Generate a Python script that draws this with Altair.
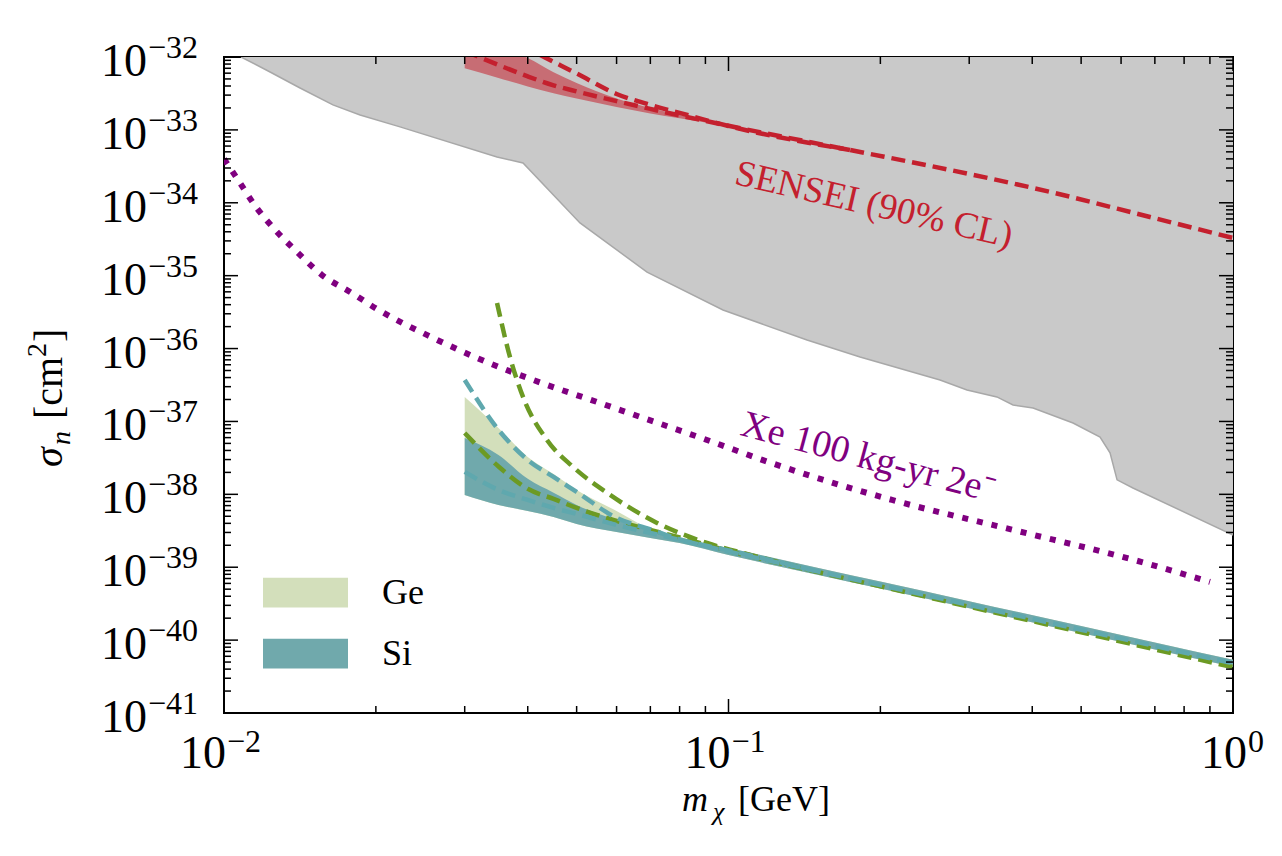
import altair as alt
import pandas as pd

FONT = "Liberation Serif"
W, H = 1009, 656

# ---------------- data ----------------
# existing constraints (grey region): lower boundary
grey_m = [0.01081, 0.01234, 0.01415, 0.01644, 0.01861, 0.02233, 0.03477, 0.03915,
          0.05077, 0.06895, 0.09752, 0.1431, 0.1823, 0.2626, 0.2970, 0.3404, 0.3664,
          0.4015, 0.4819, 0.5451, 0.5705, 0.5891, 0.6334, 1.0]
grey_sigma = [1.0e-32, 6.23e-33, 3.76e-33, 2.20e-33, 1.60e-33, 1.10e-33, 4.25e-34, 3.52e-34,
              5.29e-35, 1.12e-35, 3.38e-36, 1.31e-36, 7.67e-37, 3.71e-37, 2.70e-37, 2.17e-37,
              1.68e-37, 1.53e-37, 9.53e-38, 6.12e-38, 3.70e-38, 1.58e-38, 1.22e-38, 2.77e-39]
grey_top = 1.0e-32

# SENSEI (90% CL)
sensei_band_m = [0.03, 0.035, 0.04, 0.045, 0.05, 0.06, 0.07, 0.08, 0.1]
sensei_band_lo = [7.0e-33, 5.15e-33, 3.95e-33, 3.18e-33, 2.69e-33, 2.06e-33, 1.68e-33, 1.44e-33, 1.12e-33]
sensei_band_hi = [1.71e-32, 1.33e-32, 9.7e-33, 6.2e-33, 4.4e-33, 2.70e-33, 2.0e-33, 1.60e-33, 1.13e-33]
sensei_upper_m = [0.03, 0.035, 0.04, 0.045, 0.05, 0.06, 0.07, 0.08, 0.1, 0.1741]
sensei_upper = [3.5e-32, 2.07e-32, 1.30e-32, 8.6e-33, 5.94e-33, 3.11e-33, 2.20e-33, 1.71e-33, 1.13e-33,
                5.30e-34]
sensei_lower_m = [0.03, 0.035, 0.04, 0.045, 0.05, 0.06, 0.07, 0.08, 0.1, 0.1741, 0.2749, 0.4338, 0.6845, 1.0]
sensei_lower = [1.21e-32, 7.77e-33, 5.42e-33, 4.09e-33, 3.37e-33, 2.48e-33, 1.94e-33, 1.58e-33, 1.14e-33,
                5.30e-34, 2.82e-34, 1.41e-34, 6.38e-35, 3.29e-35]

# Xe 100 kg-yr 2e-
xe_m = [0.01, 0.01066, 0.01157, 0.01274, 0.01408, 0.01564, 0.01778, 0.02010, 0.02596, 0.03173,
        0.04099, 0.05487, 0.06769, 0.09065, 0.1214, 0.2109, 0.3664, 0.6364, 0.9003]
xe_sigma = [3.99e-34, 2.06e-34, 8.76e-35, 3.98e-35, 1.99e-35, 1.02e-35, 5.98e-36, 3.49e-36, 1.40e-36,
            7.43e-37, 3.71e-37, 1.85e-37, 1.12e-37, 5.57e-38, 2.70e-38, 8.38e-39, 3.25e-39, 1.26e-39, 6.29e-40]

# Ge / Si
mass_grid = [0.03, 0.035, 0.04, 0.045, 0.05, 0.06, 0.07, 0.08, 0.1, 0.15, 0.2, 0.3, 0.5, 0.7, 1.0]
si_band_hi = [5.94e-38, 3.47e-38, 1.63e-38, 1.05e-38, 7.15e-39, 4.45e-39, 3.25e-39, 2.52e-39, 1.84e-39,
              9.84e-40, 6.35e-40, 3.41e-40, 1.56e-40, 9.27e-41, 5.38e-41]
si_band_lo = [9.81e-39, 7.15e-39, 5.92e-39, 4.90e-39, 3.93e-39, 3.05e-39, 2.52e-39, 2.15e-39, 1.47e-39,
              7.89e-40, 5.09e-40, 2.73e-40, 1.25e-40, 7.44e-41, 4.32e-41]
ge_band_hi = [2.17e-37, 8.14e-38, 3.26e-38, 1.90e-38, 1.15e-38, 5.92e-39, 3.35e-39, 2.60e-39, 1.84e-39,
              9.84e-40, 6.35e-40, 3.41e-40, 1.56e-40, 9.27e-41, 5.38e-41]
ge_band_lo = [9.81e-39, 7.15e-39, 5.92e-39, 4.90e-39, 3.93e-39, 3.05e-39, 2.52e-39, 2.15e-39, 1.47e-39,
              7.89e-40, 5.09e-40, 2.73e-40, 1.25e-40, 7.44e-41, 4.32e-41]
si_upper_m = [0.03, 0.035, 0.04, 0.045, 0.05, 0.06, 0.07, 0.08, 0.1, 0.15]
si_dash_upper = [3.71e-37, 7.69e-38, 2.96e-38, 1.73e-38, 1.08e-38, 4.75e-39, 3.31e-39, 2.41e-39, 1.70e-39,
                 8.81e-40]
si_dash_lower = [2.03e-38, 1.15e-38, 8.38e-39, 6.51e-39, 5.38e-39, 3.80e-39, 2.95e-39, 2.37e-39, 1.64e-39,
                 8.81e-40, 5.68e-40, 3.05e-40, 1.39e-40, 8.30e-41, 4.82e-41]
ge_dash_lower = [6.95e-38, 2.41e-38, 1.19e-38, 8.65e-39, 6.51e-39, 4.32e-39, 3.25e-39, 2.56e-39, 1.67e-39,
                 8.62e-40, 5.47e-40, 2.87e-40, 1.28e-40, 7.45e-41, 4.25e-41]
ge_upper_m = [0.03477, 0.03688, 0.03915, 0.04367, 0.04918, 0.05743, 0.07217, 0.09065, 0.1139, 0.15]
ge_dash_upper = [4.22e-36, 7.67e-37, 2.17e-37, 5.57e-38, 2.38e-38, 1.05e-38, 4.05e-39, 2.15e-39, 1.40e-39,
                 8.62e-40]

# in-plot labels
annot_text = ["SENSEI (90% CL)", "Xe 100 kg-yr 2e\u207b"]
annot_m = [0.1942, 0.189]
annot_sigma = [9.33e-35, 3.16e-38]

# ticks
y_major = [10.0 ** e for e in range(-32, -42, -1)]
y_exp = ["\u2212%d" % -e for e in range(-32, -42, -1)]
y_minor = [k * 10.0 ** e for e in range(-41, -32) for k in range(2, 10)]
x_major = [0.01, 0.1, 1.0]
x_exp = ["\u22122", "\u22121", "0"]
x_minor = [k * 10.0 ** e for e in (-2, -1) for k in range(2, 10)]

# ---------------- chart ----------------
xs = alt.Scale(type="log", domain=[0.01, 1.0], nice=False)
ys = alt.Scale(type="log", domain=[1e-41, 1e-32], nice=False)


def X(f):
    return alt.X(f, type="quantitative", scale=xs, axis=None)


def Y(f):
    return alt.Y(f, type="quantitative", scale=ys, axis=None)


RED = "#c4202e"
PURPLE = "#800080"
GREEN = "#6c9a24"
TEAL = "#5fa8ae"
LW = 4.5
DASH = [14, 7]

df_grey = pd.DataFrame({"m": grey_m, "s": grey_sigma, "top": grey_top})
grey = alt.Chart(df_grey).mark_area(color="#c9c9c9", opacity=1, clip=True).encode(
    x=X("m"), y=Y("s"), y2=alt.Y2("top"))
grey_edge = alt.Chart(df_grey).mark_line(color="#a8a8a8", strokeWidth=1.5, clip=True).encode(
    x=X("m"), y=Y("s"))

df_sb = pd.DataFrame({"m": sensei_band_m, "lo": sensei_band_lo, "hi": sensei_band_hi})
sensei_band = alt.Chart(df_sb).mark_area(color=RED, opacity=0.55, interpolate="monotone", clip=True).encode(
    x=X("m"), y=Y("lo"), y2=alt.Y2("hi"))

df_sl = pd.concat([
    pd.DataFrame({"m": sensei_upper_m, "s": sensei_upper, "k": "upper"}),
    pd.DataFrame({"m": sensei_lower_m, "s": sensei_lower, "k": "lower"}),
])
sensei_lines = alt.Chart(df_sl).mark_line(color=RED, strokeWidth=LW, strokeDash=DASH,
                                          interpolate="monotone", clip=True).encode(
    x=X("m"), y=Y("s"), detail="k:N")

df_xe = pd.DataFrame({"m": xe_m, "s": xe_sigma})
xe = alt.Chart(df_xe).mark_line(color=PURPLE, strokeWidth=6, strokeDash=[6, 9], strokeCap="butt",
                                interpolate="monotone", clip=True).encode(x=X("m"), y=Y("s"))

fill_scale = alt.Scale(domain=["Ge", "Si"], range=["#d3dfbb", "#70a9ac"])
leg = alt.Legend(title=None, orient="none", legendX=39, legendY=493, padding=0,
                 symbolType="M-1,-0.35L1,-0.35L1,0.35L-1,0.35Z", symbolSize=7225,
                 symbolStrokeWidth=0, symbolOpacity=1, labelFont=FONT, labelFontSize=36,
                 labelColor="black", labelOffset=34, rowPadding=0)

df_ge = pd.DataFrame({"m": mass_grid, "lo": ge_band_lo, "hi": ge_band_hi, "name": "Ge"})
df_si = pd.DataFrame({"m": mass_grid, "lo": si_band_lo, "hi": si_band_hi, "name": "Si"})
ge_band = alt.Chart(df_ge).mark_area(interpolate="monotone", clip=True, opacity=1).encode(
    x=X("m"), y=Y("lo"), y2=alt.Y2("hi"), fill=alt.Fill("name:N", scale=fill_scale, legend=leg))
si_band = alt.Chart(df_si).mark_area(interpolate="monotone", clip=True, opacity=1).encode(
    x=X("m"), y=Y("lo"), y2=alt.Y2("hi"), fill=alt.Fill("name:N", scale=fill_scale, legend=leg))

df_gel = pd.concat([
    pd.DataFrame({"m": ge_upper_m, "s": ge_dash_upper, "k": "upper"}),
    pd.DataFrame({"m": mass_grid, "s": ge_dash_lower, "k": "lower"}),
])
ge_lines = alt.Chart(df_gel).mark_line(color=GREEN, strokeWidth=LW, strokeDash=DASH,
                                       interpolate="monotone", clip=True).encode(
    x=X("m"), y=Y("s"), detail="k:N")
df_sil = pd.concat([
    pd.DataFrame({"m": si_upper_m, "s": si_dash_upper, "k": "upper"}),
    pd.DataFrame({"m": mass_grid, "s": si_dash_lower, "k": "lower"}),
])
si_lines = alt.Chart(df_sil).mark_line(color=TEAL, strokeWidth=LW, strokeDash=DASH,
                                       interpolate="monotone", clip=True).encode(
    x=X("m"), y=Y("s"), detail="k:N")

df_an = pd.DataFrame({"t": annot_text, "m": annot_m, "s": annot_sigma})
sensei_lbl = alt.Chart(df_an.iloc[[0]]).mark_text(angle=13, font=FONT, fontSize=37, color=RED).encode(
    x=X("m"), y=Y("s"), text="t:N")
xe_lbl = alt.Chart(df_an.iloc[[1]]).mark_text(angle=15, font=FONT, fontSize=38, color=PURPLE).encode(
    x=X("m"), y=Y("s"), text="t:N")

# ticks (inward, on all four sides)
df_ymaj = pd.DataFrame({"v": y_major, "e": y_exp})
df_ymin = pd.DataFrame({"v": y_minor})
df_xmaj = pd.DataFrame({"v": x_major, "e": x_exp})
df_xmin = pd.DataFrame({"v": x_minor})
TK = dict(color="black", strokeWidth=1.5)
ticks = [
    alt.Chart(df_ymaj).mark_rule(**TK).encode(y=Y("v"), x=alt.value(0), x2=alt.value(14)),
    alt.Chart(df_ymaj).mark_rule(**TK).encode(y=Y("v"), x=alt.value(W - 14), x2=alt.value(W)),
    alt.Chart(df_ymin).mark_rule(**TK).encode(y=Y("v"), x=alt.value(0), x2=alt.value(7)),
    alt.Chart(df_ymin).mark_rule(**TK).encode(y=Y("v"), x=alt.value(W - 7), x2=alt.value(W)),
    alt.Chart(df_xmaj).mark_rule(**TK).encode(x=X("v"), y=alt.value(H - 14), y2=alt.value(H)),
    alt.Chart(df_xmaj).mark_rule(**TK).encode(x=X("v"), y=alt.value(0), y2=alt.value(14)),
    alt.Chart(df_xmin).mark_rule(**TK).encode(x=X("v"), y=alt.value(H - 7), y2=alt.value(H)),
    alt.Chart(df_xmin).mark_rule(**TK).encode(x=X("v"), y=alt.value(0), y2=alt.value(7)),
]

# tick labels 10^n
ylab10 = alt.Chart(df_ymaj).mark_text(align="right", baseline="alphabetic", dy=19, font=FONT,
                                      fontSize=46, color="black").encode(
    y=Y("v"), x=alt.value(-77), text=alt.value("10"))
ylabexp = alt.Chart(df_ymaj).mark_text(align="left", baseline="alphabetic", dy=1, font=FONT,
                                       fontSize=32, color="black").encode(
    y=Y("v"), x=alt.value(-76), text="e:N")
xneg = df_xmaj[df_xmaj.e != "0"]
xzero = df_xmaj[df_xmaj.e == "0"]
xlab = [
    alt.Chart(xneg).mark_text(align="right", baseline="alphabetic", dx=2, font=FONT, fontSize=46,
                              color="black").encode(x=X("v"), y=alt.value(H + 55), text=alt.value("10")),
    alt.Chart(xneg).mark_text(align="left", baseline="alphabetic", dx=3, font=FONT, fontSize=32,
                              color="black").encode(x=X("v"), y=alt.value(H + 39), text="e:N"),
    alt.Chart(xzero).mark_text(align="right", baseline="alphabetic", dx=14, font=FONT, fontSize=46,
                               color="black").encode(x=X("v"), y=alt.value(H + 55), text=alt.value("10")),
    alt.Chart(xzero).mark_text(align="left", baseline="alphabetic", dx=15, font=FONT, fontSize=32,
                               color="black").encode(x=X("v"), y=alt.value(H + 39), text="e:N"),
]


# axis titles (pieces for italic / sub- / superscripts)
def piece(txt, x, y, size, italic=False, angle=0):
    kw = dict(align="left", baseline="alphabetic", font=FONT, fontSize=size, color="black")
    if italic:
        kw["fontStyle"] = "italic"
    if angle:
        kw["angle"] = angle
    return alt.Chart(pd.DataFrame({"t": [txt]})).mark_text(**kw).encode(
        x=alt.value(x), y=alt.value(y), text="t:N")


titles = [
    piece("m", 458, 754, 36, italic=True),
    piece("\u03c7", 489, 763, 26, italic=True),
    piece("[GeV]", 514, 754, 36),
    piece("\u03c3", -162, 410, 40, italic=True, angle=270),
    piece("n", -154, 388, 28, italic=True, angle=270),
    piece("[cm", -162, 362, 40, angle=270),
    piece("2", -178, 300, 28, angle=270),
    piece("]", -162, 285, 40, angle=270),
]

chart = alt.layer(
    grey, grey_edge, sensei_band, sensei_lines, xe, ge_band, si_band, ge_lines, si_lines,
    sensei_lbl, xe_lbl, *ticks, ylab10, ylabexp, *xlab, *titles
).properties(
    width=W, height=H,
    padding={"left": 216, "top": 49, "right": 41, "bottom": 135},
    autosize=alt.AutoSizeParams(type="none"),
).configure_view(stroke="black", strokeWidth=2)

chart.save("out.html", embed_options={"renderer": "svg", "actions": False})
